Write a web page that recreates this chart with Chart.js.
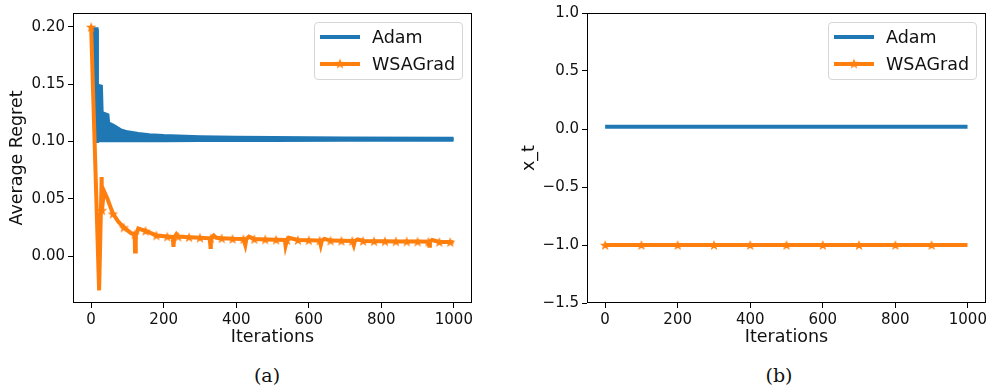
<!DOCTYPE html>
<html>
<head>
<meta charset="utf-8">
<script src="https://cdn.jsdelivr.net/npm/chart.js@4"></script>
<style>
  body { margin: 0; background: #fff; width: 987px; height: 385px; position: relative; overflow: hidden; font-family: 'DejaVu Sans'; }
  .box { position: absolute; top: 0; height: 350px; }
  .legend { position: absolute; border: 1px solid #d6d6d6; border-radius: 4px; background: rgba(255,255,255,0.8); width: 147px; height: 56px; }
  .legend canvas { position: absolute; left: 4px; }
  .legend span { position: absolute; left: 57px; font-size: 17.5px; color: #111; line-height: 20px; }
  .cap { position: absolute; top: 364px; font-family: 'DejaVu Serif'; font-size: 19px; color: #111; transform: translateX(-50%); }
</style>
</head>
<body>
<div class="box" style="left:0;width:490px"><canvas id="regretChart" width="490" height="350"></canvas></div>
<div class="box" style="left:490px;width:497px"><canvas id="xtChart" width="497" height="350"></canvas></div>
<div class="legend" id="legendA" style="left:314px;top:22px"></div>
<div class="legend" id="legendB" style="left:828px;top:22px"></div>
<div class="cap" style="left:267px">(a)</div>
<div class="cap" style="left:779px">(b)</div>
<script>
const seriesNames = ['Adam', 'WSAGrad'];
const seriesColors = ['#1f77b4', '#ff7f0e'];
const iterTicks = [0, 200, 400, 600, 800, 1000];
const regretTicks = [0, 0.05, 0.10, 0.15, 0.20];
const xtTicks = [-1.5, -1.0, -0.5, 0, 0.5, 1.0];

// (a) Adam flips up and down every iteration, so it is kept as its upper / lower envelope
const adamIter  = [5, 15, 16, 27, 29, 45, 47, 60, 80, 100, 130, 160, 200, 300, 400, 500, 700, 999];
const adamUpper = [0.198, 0.198, 0.149, 0.148, 0.125, 0.123, 0.116, 0.114, 0.110, 0.108, 0.1065, 0.1055, 0.1048, 0.1038, 0.1033, 0.1030, 0.1027, 0.1025];
const adamLower = [0.1005, 0.1005, 0.101, 0.101, 0.101, 0.101, 0.101, 0.101, 0.101, 0.101, 0.101, 0.1012, 0.1012, 0.1013, 0.1014, 0.1014, 0.1015, 0.1015];

const wsaIter = [0, 22, 29, 30, 35, 45, 60, 75, 90, 110, 120, 121, 123, 130, 150, 180, 210, 225, 227, 229, 235, 240, 270, 300,
  327, 329, 330, 338, 345, 360, 390, 420, 425, 428, 435, 450, 480, 510, 534, 536, 540, 545, 570, 600, 630, 633, 636, 643,
  660, 690, 720, 724, 727, 735, 750, 780, 810, 840, 870, 900, 930, 932, 934, 940, 960, 990, 999];
const wsaRegret = [0.200, -0.030, 0.069, 0.040, 0.057, 0.050, 0.037, 0.030, 0.025, 0.020, 0.019, 0.004, 0.018, 0.024, 0.022, 0.018, 0.017, 0.0165, 0.008, 0.016, 0.019, 0.017, 0.0165, 0.016,
  0.0155, 0.008, 0.0155, 0.018, 0.016, 0.0155, 0.015, 0.0148, 0.0095, 0.0148, 0.017, 0.0148, 0.0145, 0.0142, 0.014, 0.009, 0.014, 0.016, 0.014, 0.0138, 0.0135, 0.0095, 0.0135, 0.015,
  0.0135, 0.0133, 0.0132, 0.0095, 0.0132, 0.0145, 0.0132, 0.013, 0.0129, 0.0128, 0.0127, 0.0126, 0.0125, 0.009, 0.0125, 0.014, 0.0123, 0.0122, 0.0121];

// (b)
const adamXtIter = [0, 999];
const adamXt = [0.02, 0.02];
const wsaXtIter = [0, 100, 200, 300, 400, 500, 600, 700, 800, 900, 999];
const wsaXt = [-1.0, -1.0, -1.0, -1.0, -1.0, -1.0, -1.0, -1.0, -1.0, -1.0, -1.0];

Chart.defaults.font.family = 'DejaVu Sans';
Chart.defaults.color = '#111';

function drawStar(ctx, cx, cy, r, color) {
  ctx.beginPath();
  for (let i = 0; i < 10; i++) {
    const rr = i % 2 ? r * 0.42 : r;
    const a = -Math.PI / 2 + i * Math.PI / 5;
    ctx.lineTo(cx + rr * Math.cos(a), cy + rr * Math.sin(a));
  }
  ctx.closePath();
  ctx.fillStyle = color;
  ctx.fill();
}

const starImg = document.createElement('canvas');
starImg.width = 12;
starImg.height = 12;
drawStar(starImg.getContext('2d'), 6, 6.5, 5.5, seriesColors[1]);

function pts(xs, ys) {
  return xs.map((x, i) => ({ x: x, y: ys[i] }));
}

const frame = {
  id: 'frame',
  afterDatasetsDraw(chart) {
    const { ctx, chartArea: a } = chart;
    ctx.save();
    ctx.strokeStyle = '#000';
    ctx.lineWidth = 1;
    ctx.strokeRect(a.left + 0.5, a.top + 0.5, a.right - a.left - 1, a.bottom - a.top - 1);
    ctx.restore();
  }
};

function axis(ticks, min, max, fmt, title, fitSize, titlePad) {
  return {
    type: 'linear',
    min: min,
    max: max,
    afterBuildTicks: s => { s.ticks = ticks.map(v => ({ value: v })); },
    afterFit: s => {
      if (s.isHorizontal()) {
        s.height = fitSize;
        s.paddingLeft = 0;
        s.paddingRight = 0;
      } else {
        s.width = fitSize;
      }
    },
    grid: { drawOnChartArea: false, drawTicks: true, tickLength: 5, color: '#000' },
    border: { display: false },
    ticks: { font: { size: 15 }, padding: 3, maxRotation: 0, autoSkip: false, callback: fmt },
    title: { display: true, text: title, font: { size: 17.5 }, padding: titlePad }
  };
}

function markerEvery(n) {
  return ctx => (ctx.raw && ctx.raw.x % n === 0 ? 5 : 0);
}

const commonOptions = {
  responsive: false,
  animation: false,
  events: [],
  plugins: { legend: { display: false }, tooltip: { enabled: false } }
};

const regretChart = new Chart(document.getElementById('regretChart'), {
  type: 'line',
  data: {
    datasets: [
      { label: seriesNames[1], data: pts(wsaIter, wsaRegret), borderColor: seriesColors[1], borderWidth: 4,
        pointStyle: starImg, pointRadius: markerEvery(30), order: 0 },
      { label: seriesNames[0], data: pts(adamIter, adamUpper), borderColor: seriesColors[0], backgroundColor: seriesColors[0],
        borderWidth: 4, pointRadius: 0, fill: '+1', order: 1 },
      { label: seriesNames[0] + ' low', data: pts(adamIter, adamLower), borderColor: seriesColors[0], borderWidth: 4,
        pointRadius: 0, order: 2 }
    ]
  },
  options: Object.assign({}, commonOptions, {
    layout: { autoPadding: false, padding: { top: 13, right: 18, left: 0, bottom: 0 } },
    scales: {
      x: axis(iterTicks, -50, 1050, v => v, 'Iterations', 47, { top: 0, bottom: 2 }),
      y: axis(regretTicks, -0.041, 0.2122, v => v.toFixed(2), 'Average Regret', 73, { top: 7, bottom: 0 })
    }
  }),
  plugins: [frame]
});

const xtChart = new Chart(document.getElementById('xtChart'), {
  type: 'line',
  data: {
    datasets: [
      { label: seriesNames[1], data: pts(wsaXtIter, wsaXt), borderColor: seriesColors[1], borderWidth: 4,
        pointStyle: starImg, pointRadius: markerEvery(100), order: 0 },
      { label: seriesNames[0], data: pts(adamXtIter, adamXt), borderColor: seriesColors[0], borderWidth: 4,
        pointRadius: 0, order: 1 }
    ]
  },
  options: Object.assign({}, commonOptions, {
    layout: { autoPadding: false, padding: { top: 13, right: 1, left: 0, bottom: 0 } },
    scales: {
      x: axis(iterTicks, -50, 1050, v => v, 'Iterations', 47, { top: 0, bottom: 2 }),
      y: axis(xtTicks, -1.5, 1.0, v => v.toFixed(1).replace('-', '\u2212'), 'x_t', 97, { top: 29, bottom: 0 })
    }
  }),
  plugins: [frame]
});

function buildLegend(id) {
  const box = document.getElementById(id);
  seriesNames.forEach((name, i) => {
    const cy = 14 + i * 26.7;
    const c = document.createElement('canvas');
    c.width = 42;
    c.height = 14;
    c.style.top = (cy - 7) + 'px';
    const g = c.getContext('2d');
    g.fillStyle = seriesColors[i];
    g.fillRect(1, 5, 40, 4);
    if (i === 1) g.drawImage(starImg, 15, 0.5);
    box.appendChild(c);
    const s = document.createElement('span');
    s.textContent = name;
    s.style.top = (cy - 10) + 'px';
    box.appendChild(s);
  });
}
buildLegend('legendA');
buildLegend('legendB');
</script>
</body>
</html>
